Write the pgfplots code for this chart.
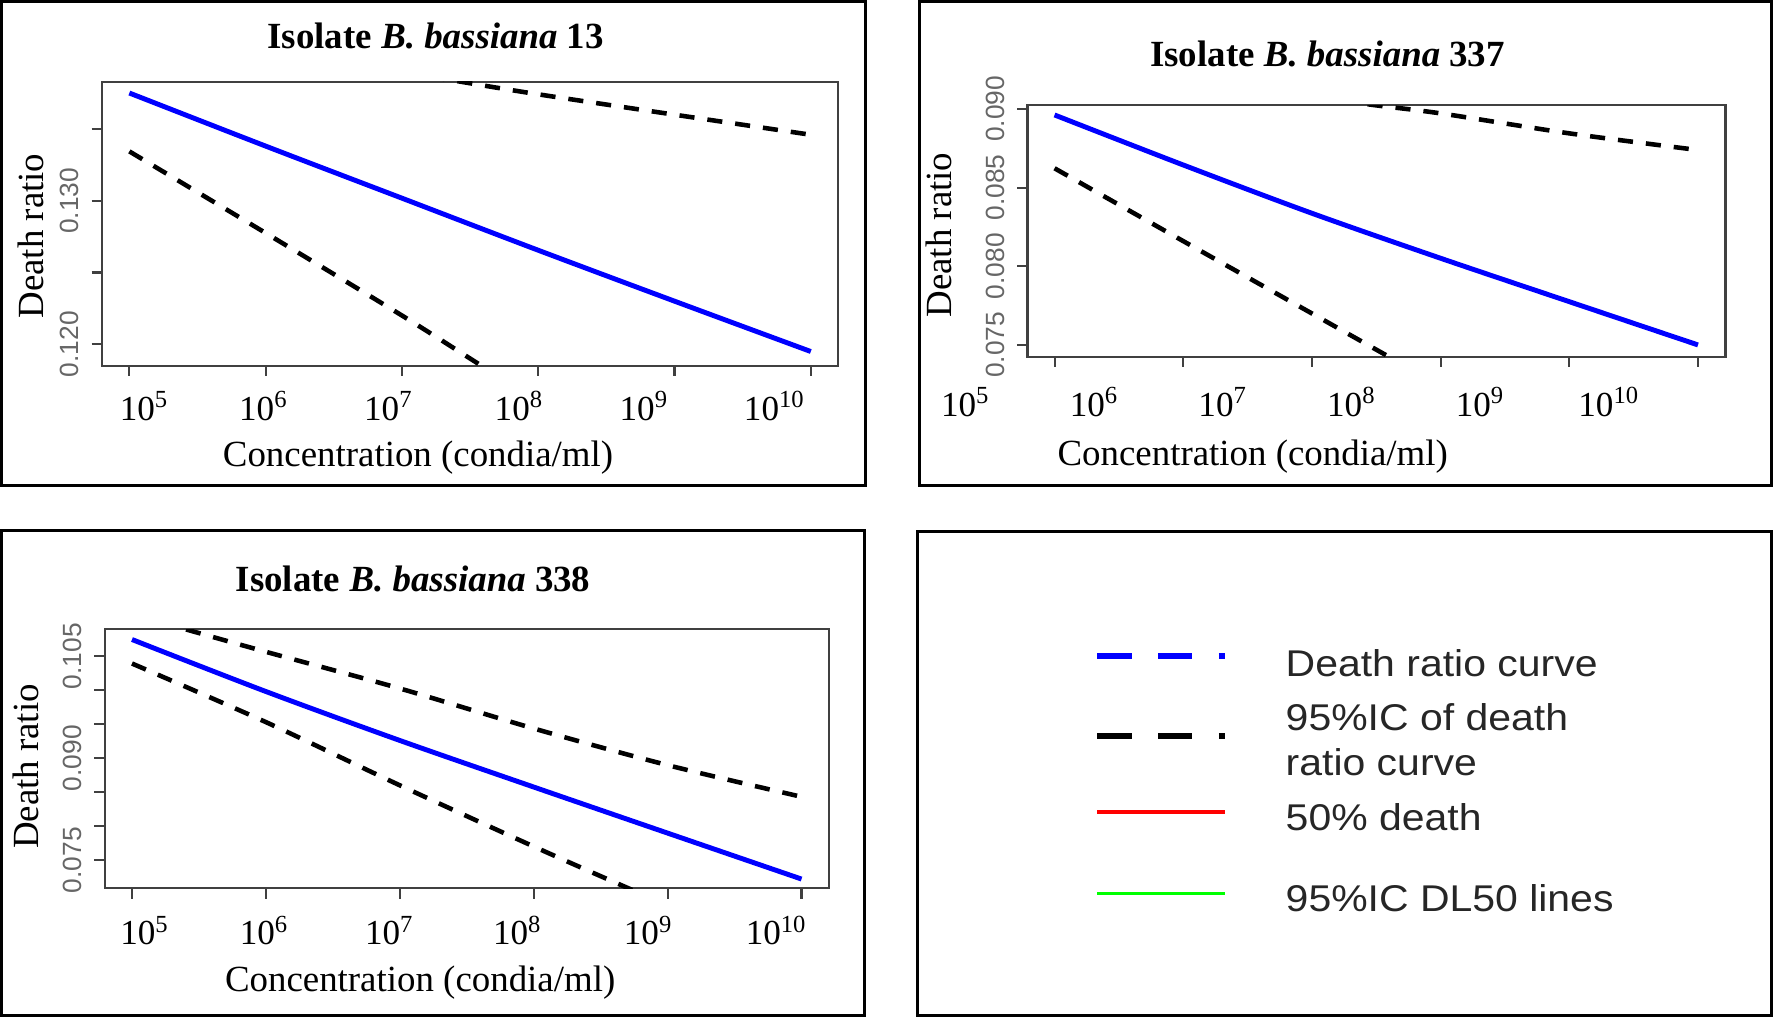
\documentclass[border=0pt]{standalone}
\usepackage{fontspec}
\setmainfont{Liberation Serif}
\newfontfamily\arial{Liberation Sans}
\newfontfamily\legfont{Liberation Sans}[FakeStretch=1.1]
\usepackage{pgfplots}
\pgfplotsset{compat=1.18}

\pgfplotsset{
    rplot/.style={
        scale only axis,
        anchor=south west,
        axis line style={black!75, line width=0.6pt},
        tick align=outside,
        tick pos=left,
        major tick length=2.9pt,
        tick style={black!75, line width=0.6pt},
        scaled ticks=false,
        xtick={5,6,7,8,9,10},
        yticklabel style={xshift=-3.4pt, rotate=90, anchor=south, inner sep=0pt,
            font=\fontsize{7.5}{8}\arial, text=black!60},
        xticklabel style={anchor=base, inner sep=0pt,
            font=\fontsize{10}{12}\selectfont, yshift=-12.6pt},
    },
    ci/.style={black, line width=1.3pt, dash pattern=on 4.3pt off 3.7pt, smooth},
    fit/.style={blue, line width=1.4pt, smooth},
}

\begin{document}
\begin{tikzpicture}
    \useasboundingbox (0,0) rectangle (505pt,-290.1pt);

    % panel frames
    \begin{scope}[line width=0.85pt]
        \draw (0.43pt,-0.43pt) rectangle (246.3pt,-138.2pt);
        \draw (261.7pt,-0.43pt) rectangle (504.2pt,-138.2pt);
        \draw (0.43pt,-151.0pt) rectangle (246.0pt,-289.1pt);
        \draw (261.3pt,-151.3pt) rectangle (504.2pt,-289.1pt);
    \end{scope}

    % ---- Isolate 13 ----
    \begin{axis}[rplot,
            at={(28.95pt,-104.1pt)}, width=209.5pt, height=80.85pt,
            xmin=4.797, xmax=10.197, ymin=0.1185, ymax=0.1383,
            xticklabels={},
            extra x ticks={5.11,5.986,6.903,7.861,8.778,9.735},
            extra x tick labels={10\textsuperscript{5},10\textsuperscript{6},10\textsuperscript{7},10\textsuperscript{8},10\textsuperscript{9},10\textsuperscript{10}},
            extra x tick style={tick style={draw=none}},
            ytick={0.120,0.125,0.130,0.135},
            yticklabels={0.120,,0.130,},
        ]
        \addplot[fit] coordinates {(5,0.13751) (6,0.13381) (7,0.13018) (8,0.12655) (9,0.12300) (10,0.11949)};
        \addplot[ci] coordinates {(5,0.13344) (6,0.12775) (7,0.12200) (7.555,0.11867) (8,0.1160)};
        \addplot[ci] coordinates {(7,0.1390) (7.43,0.1383) (8,0.13742) (9,0.13600) (10,0.13460)};
    \end{axis}
    \node[anchor=base, font=\bfseries\fontsize{10.5}{12}\selectfont] at (124pt,-13.8pt) {Isolate \textit{B. bassiana} 13};
    \node[anchor=base, font=\fontsize{10.5}{12}\selectfont] at (119pt,-132.8pt) {Concentration (condia/ml)};
    \node[anchor=base, rotate=90, font=\fontsize{10.5}{12}\selectfont] at (12.3pt,-67.2pt) {Death ratio};

    % ---- Isolate 337 ----
    \begin{axis}[rplot,
            at={(292.5pt,-101.5pt)}, width=198.7pt, height=71.6pt,
            xmin=4.79, xmax=10.214, ymin=0.07426, ymax=0.09025,
            xticklabels={10\textsuperscript{5},10\textsuperscript{6},10\textsuperscript{7},10\textsuperscript{8},10\textsuperscript{9},10\textsuperscript{10}},
            xticklabel style={xshift=-25.3pt, yshift=-1.6pt},
            ytick={0.075,0.080,0.085,0.090},
            yticklabels={0.075,0.080,0.085,0.090},
        ]
        \addplot[fit] coordinates {(5,0.08962) (6,0.08644) (7,0.08337) (8,0.08051) (9,0.07775) (10,0.07500)};
        \addplot[ci] coordinates {(5,0.08623) (6,0.08160) (7,0.07700) (7.55,0.07447) (8,0.0724)};
        \addplot[ci] coordinates {(7,0.0908) (7.48,0.09025) (8,0.08972) (9,0.08845) (10,0.08739)};
    \end{axis}
    \node[anchor=base, font=\bfseries\fontsize{10.5}{12}\selectfont] at (377.9pt,-19.0pt) {Isolate \textit{B. bassiana} 337};
    \node[anchor=base, font=\fontsize{10.5}{12}\selectfont] at (356.6pt,-132.4pt) {Concentration (condia/ml)};
    \node[anchor=base, rotate=90, font=\fontsize{10.5}{12}\selectfont] at (270.8pt,-66.9pt) {Death ratio};

    % ---- Isolate 338 ----
    \begin{axis}[rplot,
            at={(29.8pt,-252.9pt)}, width=206.3pt, height=73.8pt,
            xmin=4.796, xmax=10.208, ymin=0.07083, ymax=0.10897,
            xticklabels={},
            extra x ticks={5.096,5.989,6.924,7.880,8.857,9.813},
            extra x tick labels={10\textsuperscript{5},10\textsuperscript{6},10\textsuperscript{7},10\textsuperscript{8},10\textsuperscript{9},10\textsuperscript{10}},
            extra x tick style={tick style={draw=none}},
            xticklabel style={yshift=-0.6pt},
            ytick={0.075,0.080,0.085,0.090,0.095,0.100,0.105},
            yticklabels={0.075,,,0.090,,,0.105},
        ]
        \addplot[fit] coordinates {(5,0.10745) (6,0.09980) (7,0.09260) (8,0.08575) (9,0.07897) (10,0.07221)};
        \addplot[ci] coordinates {(5,0.10392) (6,0.09530) (7,0.08600) (8,0.07700) (8.71,0.07083) (9,0.0685)};
        \addplot[ci] coordinates {(5,0.1112) (5.41,0.1089) (6,0.10564) (7,0.10025) (8,0.09436) (9,0.08897) (10,0.08431)};
    \end{axis}
    \node[anchor=base, font=\bfseries\fontsize{10.5}{12}\selectfont] at (117.6pt,-168.4pt) {Isolate \textit{B. bassiana} 338};
    \node[anchor=base, font=\fontsize{10.5}{12}\selectfont] at (119.6pt,-282.3pt) {Concentration (condia/ml)};
    \node[anchor=base, rotate=90, font=\fontsize{10.5}{12}\selectfont] at (11.1pt,-218.2pt) {Death ratio};

    % ---- legend panel ----
    \draw[blue, line width=1.7pt, dash pattern=on 9.7pt off 7.6pt] (312.4pt,-186.6pt) -- (348.6pt,-186.6pt);
    \draw[black, line width=1.7pt, dash pattern=on 9.7pt off 7.6pt] (312.4pt,-209.4pt) -- (348.6pt,-209.4pt);
    \draw[red, line width=1pt] (312.4pt,-231.2pt) -- (348.6pt,-231.2pt);
    \draw[green, line width=1pt] (312.4pt,-254.3pt) -- (348.6pt,-254.3pt);
    \begin{scope}[every node/.style={anchor=base west, inner sep=0pt, text=black!85, font=\legfont\fontsize{10.6}{12}\selectfont}]
        \node at (365.8pt,-192.6pt) {Death ratio curve};
        \node at (365.8pt,-207.8pt) {95\%IC of death};
        \node at (365.8pt,-220.8pt) {ratio curve};
        \node at (365.8pt,-236.3pt) {50\% death};
        \node at (365.8pt,-259.5pt) {95\%IC DL50 lines};
    \end{scope}
\end{tikzpicture}
\end{document}
